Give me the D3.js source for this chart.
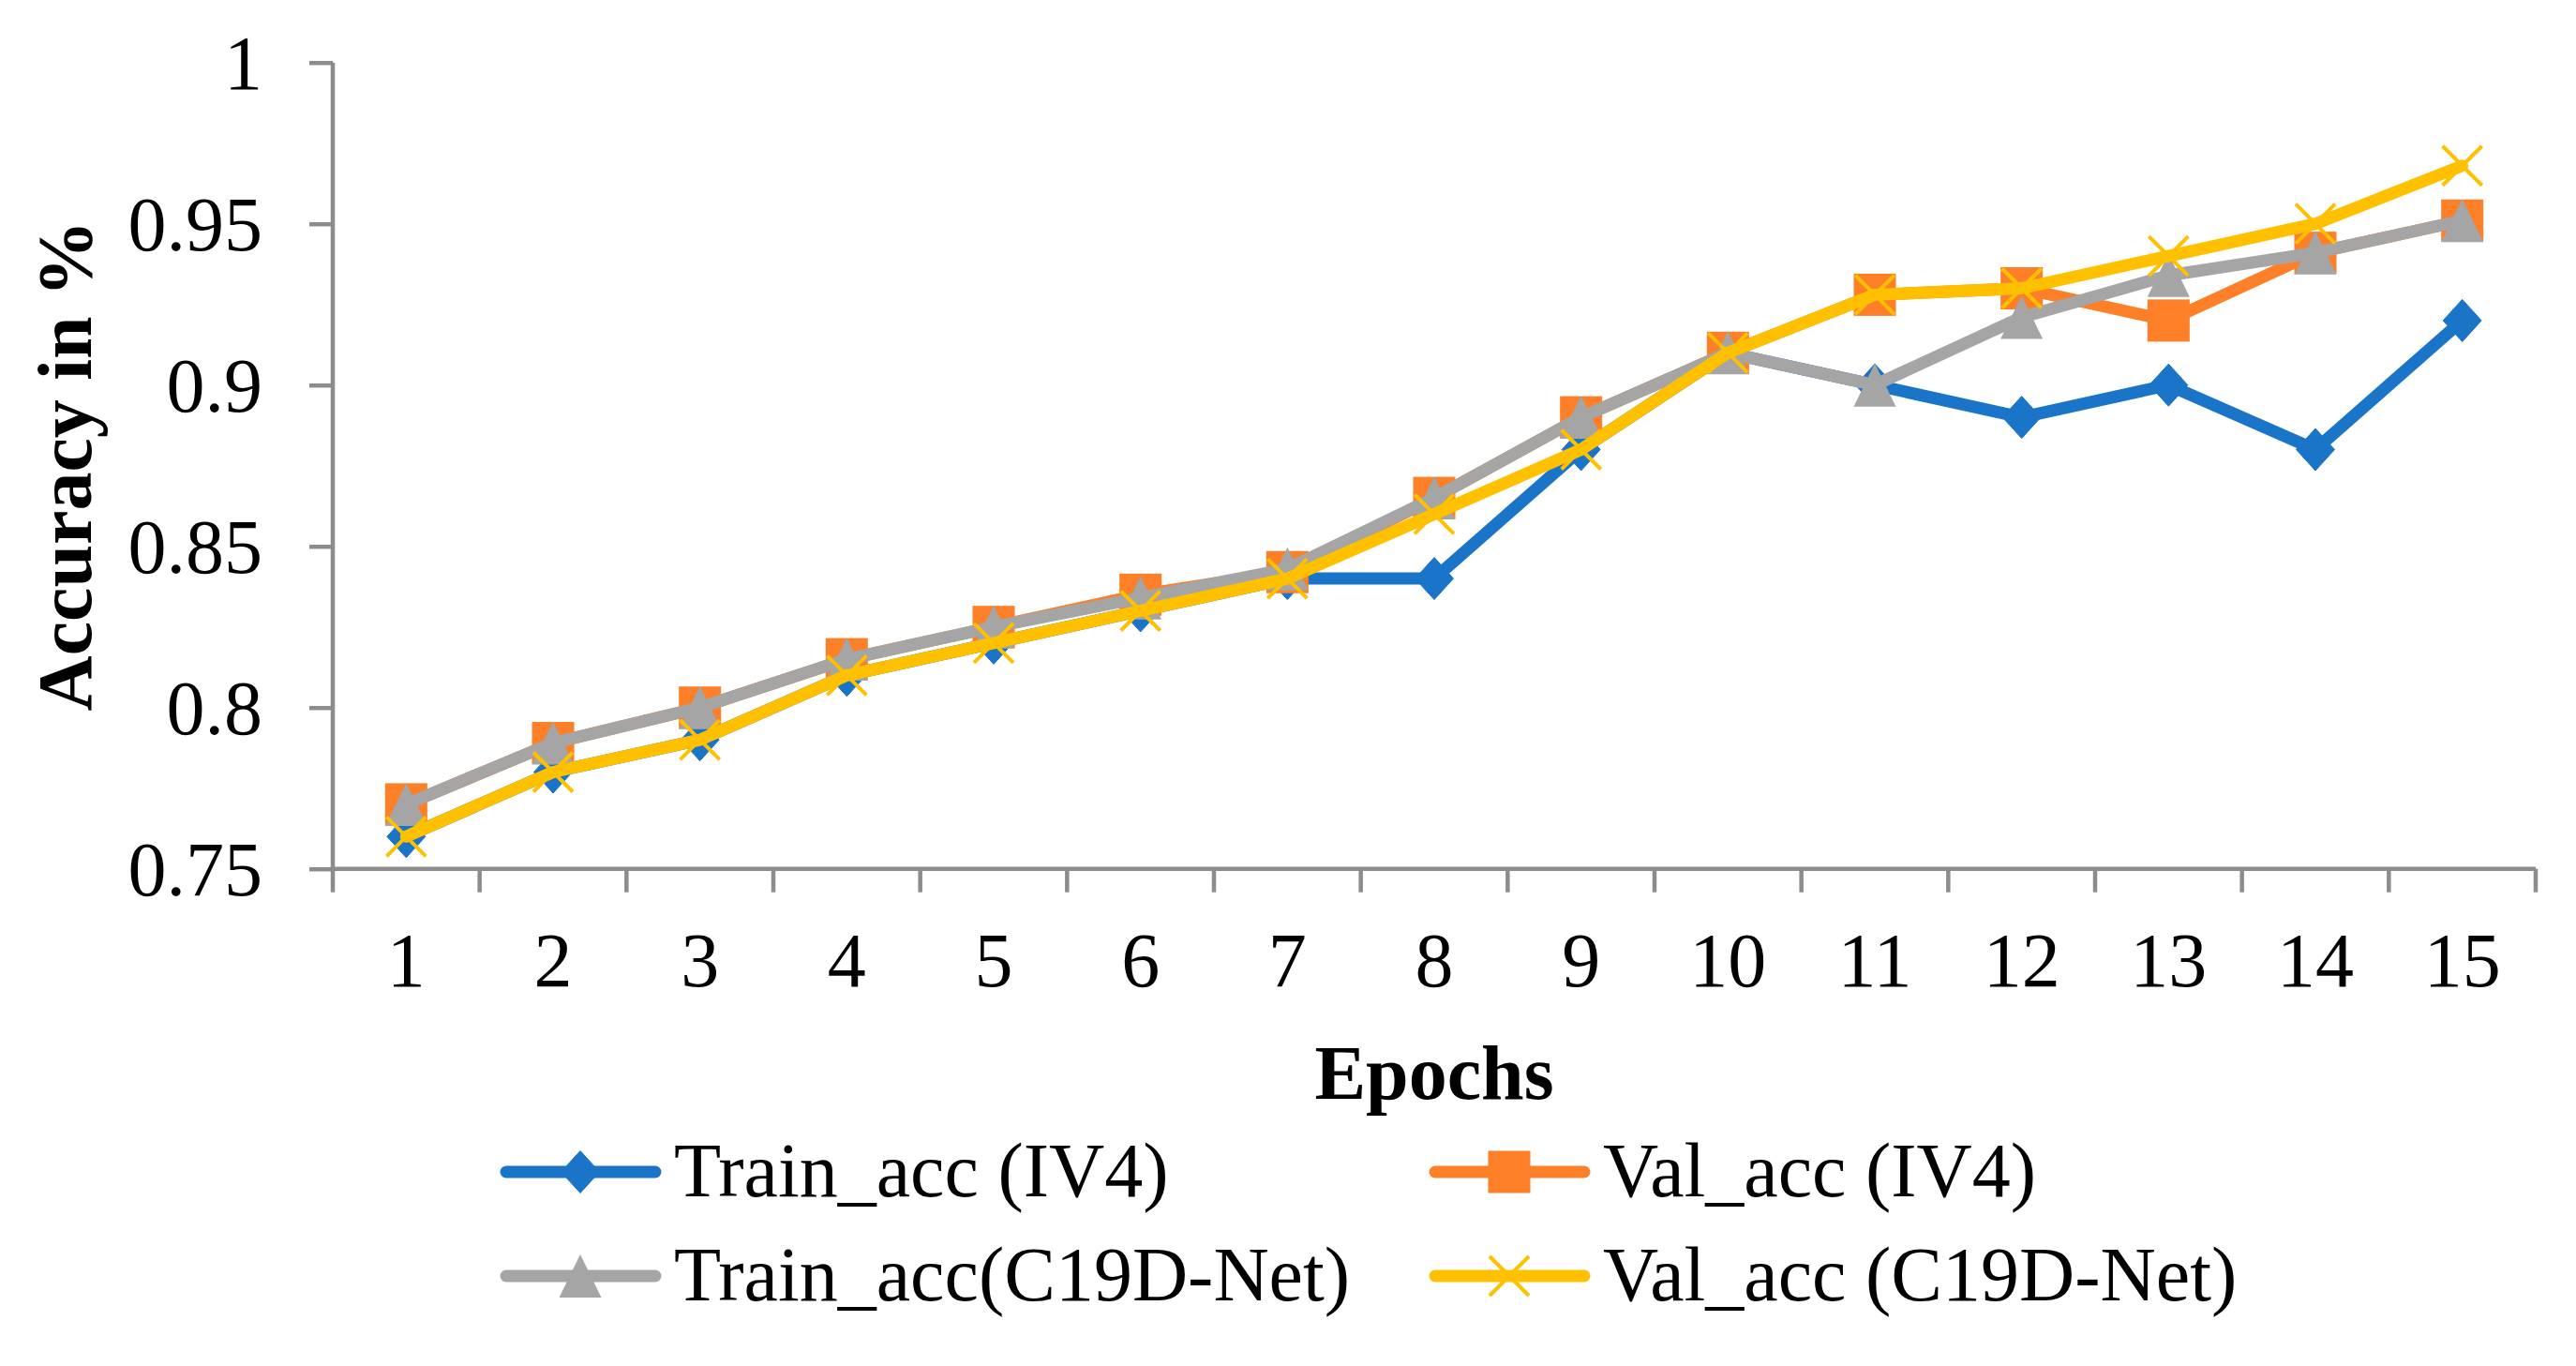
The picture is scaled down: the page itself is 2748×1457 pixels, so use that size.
<!DOCTYPE html>
<html>
<head>
<meta charset="utf-8">
<script src="https://cdn.jsdelivr.net/npm/d3@7"></script>
<style>
  html, body { margin: 0; padding: 0; background: #fff; }
  svg { display: block; }
  text { font-family: "Liberation Serif", "Times New Roman", serif; fill: #000; }
</style>
</head>
<body>
<svg id="chart" width="2748" height="1457"></svg>
<script>
// ---- data ----
const epochs = [1,2,3,4,5,6,7,8,9,10,11,12,13,14,15];
const trainIV4 = [0.76,0.78,0.79,0.81,0.82,0.83,0.84,0.84,0.88,0.91,0.90,0.89,0.90,0.88,0.92];
const valIV4   = [0.77,0.789,0.80,0.815,0.825,0.835,0.842,0.865,0.89,0.91,0.928,0.93,0.92,0.941,0.951];
const trainC19 = [0.77,0.789,0.80,0.815,0.825,0.834,0.843,0.865,0.89,0.91,0.90,0.921,0.934,0.941,0.951];
const valC19   = [0.76,0.78,0.79,0.81,0.82,0.83,0.84,0.86,0.88,0.91,0.928,0.93,0.94,0.95,0.968];
const seriesNames = ["Train_acc (IV4)", "Val_acc (IV4)", "Train_acc(C19D-Net)", "Val_acc (C19D-Net)"];
const yTicks = [0.75, 0.8, 0.85, 0.9, 0.95, 1];
const yTickLabels = ["0.75", "0.8", "0.85", "0.9", "0.95", "1"];
const xTitle = "Epochs";
const yTitle = "Accuracy in %";

(function () {
// ---- styles ----
const colors = ["#1A74C8", "#FD7F28", "#A5A5A5", "#FFC000"];
const shapes = ["diamond", "square", "triangle", "x"];
const FS = 82;
const axisColor = "#8C8C8C";

const svg = d3.select("#chart");
const pLeft = 355, pRight = 2705, pTop = 66.7, pBottom = 926.7;

const x = d3.scaleBand().domain(epochs).range([pLeft, pRight]).padding(0);
const y = d3.scaleLinear().domain([0.75, 1]).range([pBottom, pTop]);

// axes
const yAxis = d3.axisLeft(y).tickValues(yTicks).tickSize(25)
  .tickFormat((d, i) => yTickLabels[i]).tickPadding(50);
const gy = svg.append("g").attr("transform", `translate(${pLeft},0)`).call(yAxis);
gy.select(".domain").attr("stroke", axisColor).attr("stroke-width", 4.5).attr("d", `M0,${pTop}V${pBottom}`);
gy.selectAll(".tick line").attr("stroke", axisColor).attr("stroke-width", 4.5);
gy.selectAll(".tick text").attr("font-size", FS).attr("font-family", "Liberation Serif")
  .attr("fill", "#000").attr("dy", "0.34em");

const xAxis = d3.axisBottom(x).tickSize(0).tickPadding(0);
const gx = svg.append("g").attr("transform", `translate(0,${pBottom})`).call(xAxis);
gx.select(".domain").attr("stroke", axisColor).attr("stroke-width", 4.5).attr("d", `M${pLeft},0H${pRight}`);
gx.selectAll(".tick line").remove();
gx.selectAll(".tick text").attr("font-size", FS).attr("font-family", "Liberation Serif")
  .attr("fill", "#000").attr("dy", null).attr("y", 1052 - pBottom);
// band boundary tick marks
const bounds = epochs.map(e => x(e)).concat([x(epochs[epochs.length - 1]) + x.bandwidth()]);
gx.selectAll("line.btick").data(bounds).enter().append("line").attr("class", "btick")
  .attr("x1", d => d).attr("x2", d => d).attr("y1", 0).attr("y2", 25)
  .attr("stroke", axisColor).attr("stroke-width", 4.5);

// titles
svg.append("text").attr("x", (pLeft + pRight) / 2).attr("y", 1172)
  .attr("text-anchor", "middle").attr("font-size", FS).attr("font-weight", "bold").text(xTitle);
svg.append("text").attr("transform", `translate(97,${(pTop + pBottom) / 2}) rotate(-90)`)
  .attr("text-anchor", "middle").attr("font-size", FS).attr("font-weight", "bold").text(yTitle);

// marker drawing
function drawMarker(g, shape, color, cx, cy) {
  if (shape === "diamond") {
    g.append("path").attr("d", `M${cx},${cy-22.5}L${cx+20.5},${cy}L${cx},${cy+22.5}L${cx-20.5},${cy}Z`)
      .attr("fill", color).attr("stroke", color).attr("stroke-width", 1);
  } else if (shape === "square") {
    g.append("rect").attr("x", cx - 22.5).attr("y", cy - 22.5).attr("width", 45).attr("height", 45)
      .attr("fill", color);
  } else if (shape === "triangle") {
    g.append("path").attr("d", `M${cx},${cy-23}L${cx+22.5},${cy+23}L${cx-22.5},${cy+23}Z`)
      .attr("fill", color);
  } else {
    g.append("path").attr("d", `M${cx-21},${cy-21}L${cx+21},${cy+21}M${cx+21},${cy-21}L${cx-21},${cy+21}`)
      .attr("stroke", color).attr("stroke-width", 4).attr("fill", "none");
  }
}

const allSeries = [trainIV4, valIV4, trainC19, valC19];
const line = d3.line().x((d, i) => x(epochs[i]) + x.bandwidth() / 2).y(d => y(d));

allSeries.forEach((vals, si) => {
  const g = svg.append("g");
  g.append("path").datum(vals).attr("d", line).attr("fill", "none")
    .attr("stroke", colors[si]).attr("stroke-width", 13)
    .attr("stroke-linejoin", "round").attr("stroke-linecap", "round");
  vals.forEach((v, i) => drawMarker(g, shapes[si], colors[si], x(epochs[i]) + x.bandwidth() / 2, y(v)));
});

// legend
const legendPos = [
  {lx: 533, ly: 1250}, {lx: 1524, ly: 1250},
  {lx: 533, ly: 1361}, {lx: 1524, ly: 1361}
];
seriesNames.forEach((name, si) => {
  const p = legendPos[si];
  const g = svg.append("g");
  g.append("line").attr("x1", p.lx + 7).attr("x2", p.lx + 166).attr("y1", p.ly).attr("y2", p.ly)
    .attr("stroke", colors[si]).attr("stroke-width", 13).attr("stroke-linecap", "round");
  drawMarker(g, shapes[si], colors[si], p.lx + 86, p.ly);
  g.append("text").attr("x", p.lx + 186).attr("y", p.ly + 26).attr("font-size", FS).text(name);
});
})();
</script>
</body>
</html>
